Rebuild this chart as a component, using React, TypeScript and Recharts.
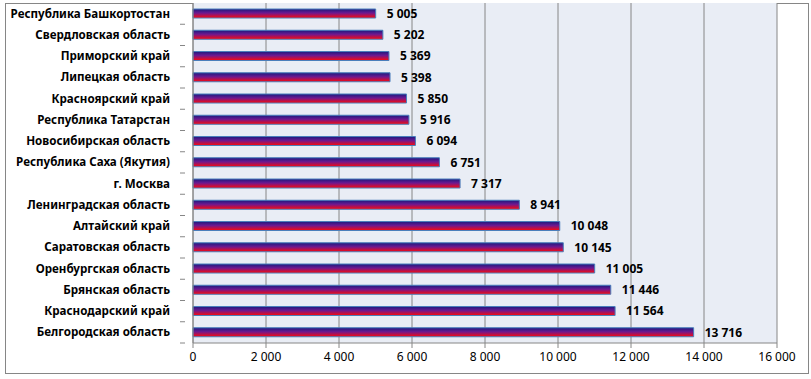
import { BarChart, Bar, XAxis, YAxis, CartesianGrid, LabelList } from 'recharts'

const regions = [
  'Республика Башкортостан',
  'Свердловская область',
  'Приморский край',
  'Липецкая область',
  'Красноярский край',
  'Республика Татарстан',
  'Новосибирская область',
  'Республика Саха (Якутия)',
  'г. Москва',
  'Ленинградская область',
  'Алтайский край',
  'Саратовская область',
  'Оренбургская область',
  'Брянская область',
  'Краснодарский край',
  'Белгородская область',
]

const values = [5005, 5202, 5369, 5398, 5850, 5916, 6094, 6751, 7317, 8941, 10048, 10145, 11005, 11446, 11564, 13716]

const xTicks = [0, 2000, 4000, 6000, 8000, 10000, 12000, 14000, 16000]

const data = regions.map((name, i) => ({ name, value: values[i] }))

const fmt = (v: number) => String(v).replace(/\B(?=(\d{3})+(?!\d))/g, ' ')

const FONT = '"Noto Sans", sans-serif'
const GRAY = '#868686'

function CategoryTick(props: any) {
  const { x, y, payload, band } = props
  return (
    <g>
      <text
        x={x - 15}
        y={y}
        dy={4}
        textAnchor="end"
        fontFamily={FONT}
        fontSize={11.6}
        fontWeight="bold"
        fill="#000"
      >
        {payload.value}
      </text>
      <line x1={x - 5} x2={x} y1={y + band / 2} y2={y + band / 2} stroke={GRAY} />
    </g>
  )
}

export default function App() {
  const top = 3
  const plotBottom = 343
  const band = (plotBottom - top) / regions.length
  return (
    <div style={{ position: 'absolute', left: 0, top: 0, width: 811, height: 379, background: '#fff' }}>
      <div
        style={{
          position: 'absolute',
          left: 5,
          top: 3,
          width: 802,
          height: 369,
          border: `1px solid ${GRAY}`,
        }}
      />
      <div style={{ position: 'absolute', left: 0, top: 0 }}>
        <BarChart
          width={811}
          height={379}
          data={data}
          layout="vertical"
          margin={{ top: top, right: 34, left: 5, bottom: 0 }}
          barSize={9}
        >
          <defs>
            <linearGradient id="barFill" x1="0" y1="0" x2="0" y2="1">
              <stop offset="0%" stopColor="#1a1a7e" />
              <stop offset="45%" stopColor="#6e1890" />
              <stop offset="100%" stopColor="#ff0808" />
            </linearGradient>
          </defs>
          <CartesianGrid
            horizontal={false}
            stroke={GRAY}
            fill="#e9edf5"
            strokeDasharray=""
          />
          <XAxis
            type="number"
            domain={[0, 16000]}
            ticks={xTicks}
            interval={0}
            height={36}
            tickFormatter={fmt}
            stroke={GRAY}
            tickSize={5}
            tick={{ fill: '#000', fontFamily: FONT, fontSize: 12 }}
            tickMargin={4}
          />
          <YAxis
            type="category"
            dataKey="name"
            width={188}
            stroke={GRAY}
            tickLine={false}
            interval={0}
            tick={<CategoryTick band={band} />}
          />
          <Bar
            dataKey="value"
            fill="url(#barFill)"
            stroke="#4a7ebb"
            strokeWidth={1}
            isAnimationActive={false}
          >
            <LabelList
              dataKey="value"
              position="right"
              offset={11}
              formatter={(v: any) => fmt(Number(v))}
              style={{ fill: '#000', fontFamily: FONT, fontSize: 12, fontWeight: 'bold' }}
            />
          </Bar>
        </BarChart>
      </div>
    </div>
  )
}
